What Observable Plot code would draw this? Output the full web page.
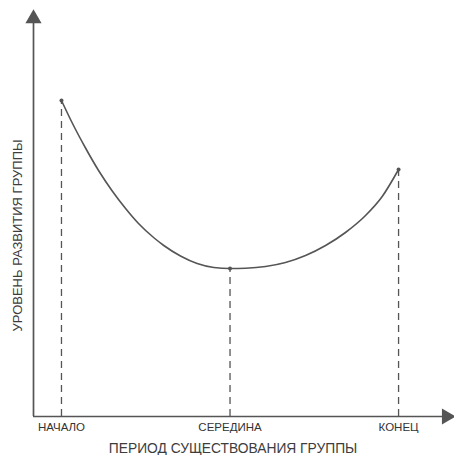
<!DOCTYPE html>
<html><head><meta charset="utf-8">
<script src="https://cdn.jsdelivr.net/npm/d3@7"></script>
<script src="https://cdn.jsdelivr.net/npm/@observablehq/plot@0.6"></script>
<style>body{margin:0;background:#fff;} svg{display:block;}</style>
</head><body><div id="chart"></div>
<script>
const stages = ["НАЧАЛО", "СЕРЕДИНА", "КОНЕЦ"];
const stageIndex = [0, 1, 2];
const levels = [316, 148, 247];
// points (period position, level)
const curveX = [0, 0.061, 0.141, 0.220, 0.299, 0.378, 0.457, 0.55, 0.607, 0.706, 0.805, 0.904, 1, 1.092, 1.211, 1.329, 1.448, 1.567, 1.685, 1.804, 1.903, 2];
const curveY = [316, 294.5, 269, 246, 226, 208.5, 193, 178.5, 171, 160.5, 153, 149, 148, 148.3, 150, 154, 161, 171, 184, 201, 220, 247];
const xTitle = "ПЕРИОД СУЩЕСТВОВАНИЯ ГРУППЫ";
const yTitle = "УРОВЕНЬ РАЗВИТИЯ ГРУППЫ";

const data = stageIndex.map((i) => ({x: i, y: levels[i], label: stages[i]}));
const curve = curveX.map((x, i) => ({x, y: curveY[i]}));
const x0 = -0.166, x1 = 2.32, yTop = 404;
const ink = "#555";
const font = "'Liberation Sans', Arial, sans-serif";

const chart = Plot.plot({
  width: 454, height: 455,
  marginLeft: 33, marginRight: 2, marginTop: 12, marginBottom: 39,
  style: {fontFamily: font, background: "#fff"},
  x: {domain: [x0, x1], axis: null},
  y: {domain: [0, yTop], axis: null},
  marks: [
    Plot.ruleX(data, {x: "x", y1: 0, y2: "y", stroke: ink, strokeWidth: 1.3, strokeDasharray: "7,5"}),
    Plot.line(curve, {x: "x", y: "y", curve: "monotone-x", stroke: ink, strokeWidth: 1.6}),
    Plot.dot(data, {x: "x", y: "y", r: 2, fill: ink}),
    Plot.ruleX([x0], {y1: 0, y2: yTop - 8, stroke: ink, strokeWidth: 1.7}),
    Plot.ruleY([0], {x1: x0, x2: x1 - 0.04, stroke: ink, strokeWidth: 1.7}),
    Plot.dot([{x: x0, y: yTop - 6}], {x: "x", y: "y", symbol: "triangle", r: 6, fill: ink, stroke: "none"}),
    Plot.dot([{x: x1 - 0.035, y: 0}], {x: "x", y: "y", symbol: "triangle", r: 6, fill: ink, stroke: "none", rotate: 90}),
    Plot.axisX({ticks: stageIndex, tickFormat: (d) => stages[d], tickSize: 0, tickPadding: 6, fontSize: 11.5, color: "#333", label: null}),
    Plot.text([xTitle], {frameAnchor: "bottom", x: 1.018, dy: 36, fontSize: 13.8, fill: "#3d3d3d"}),
    Plot.text([yTitle], {x: x0, y: 181, rotate: -90, dx: -16, fontSize: 13, fill: "#3d3d3d"})
  ]
});
document.getElementById("chart").append(chart);
</script></body></html>
